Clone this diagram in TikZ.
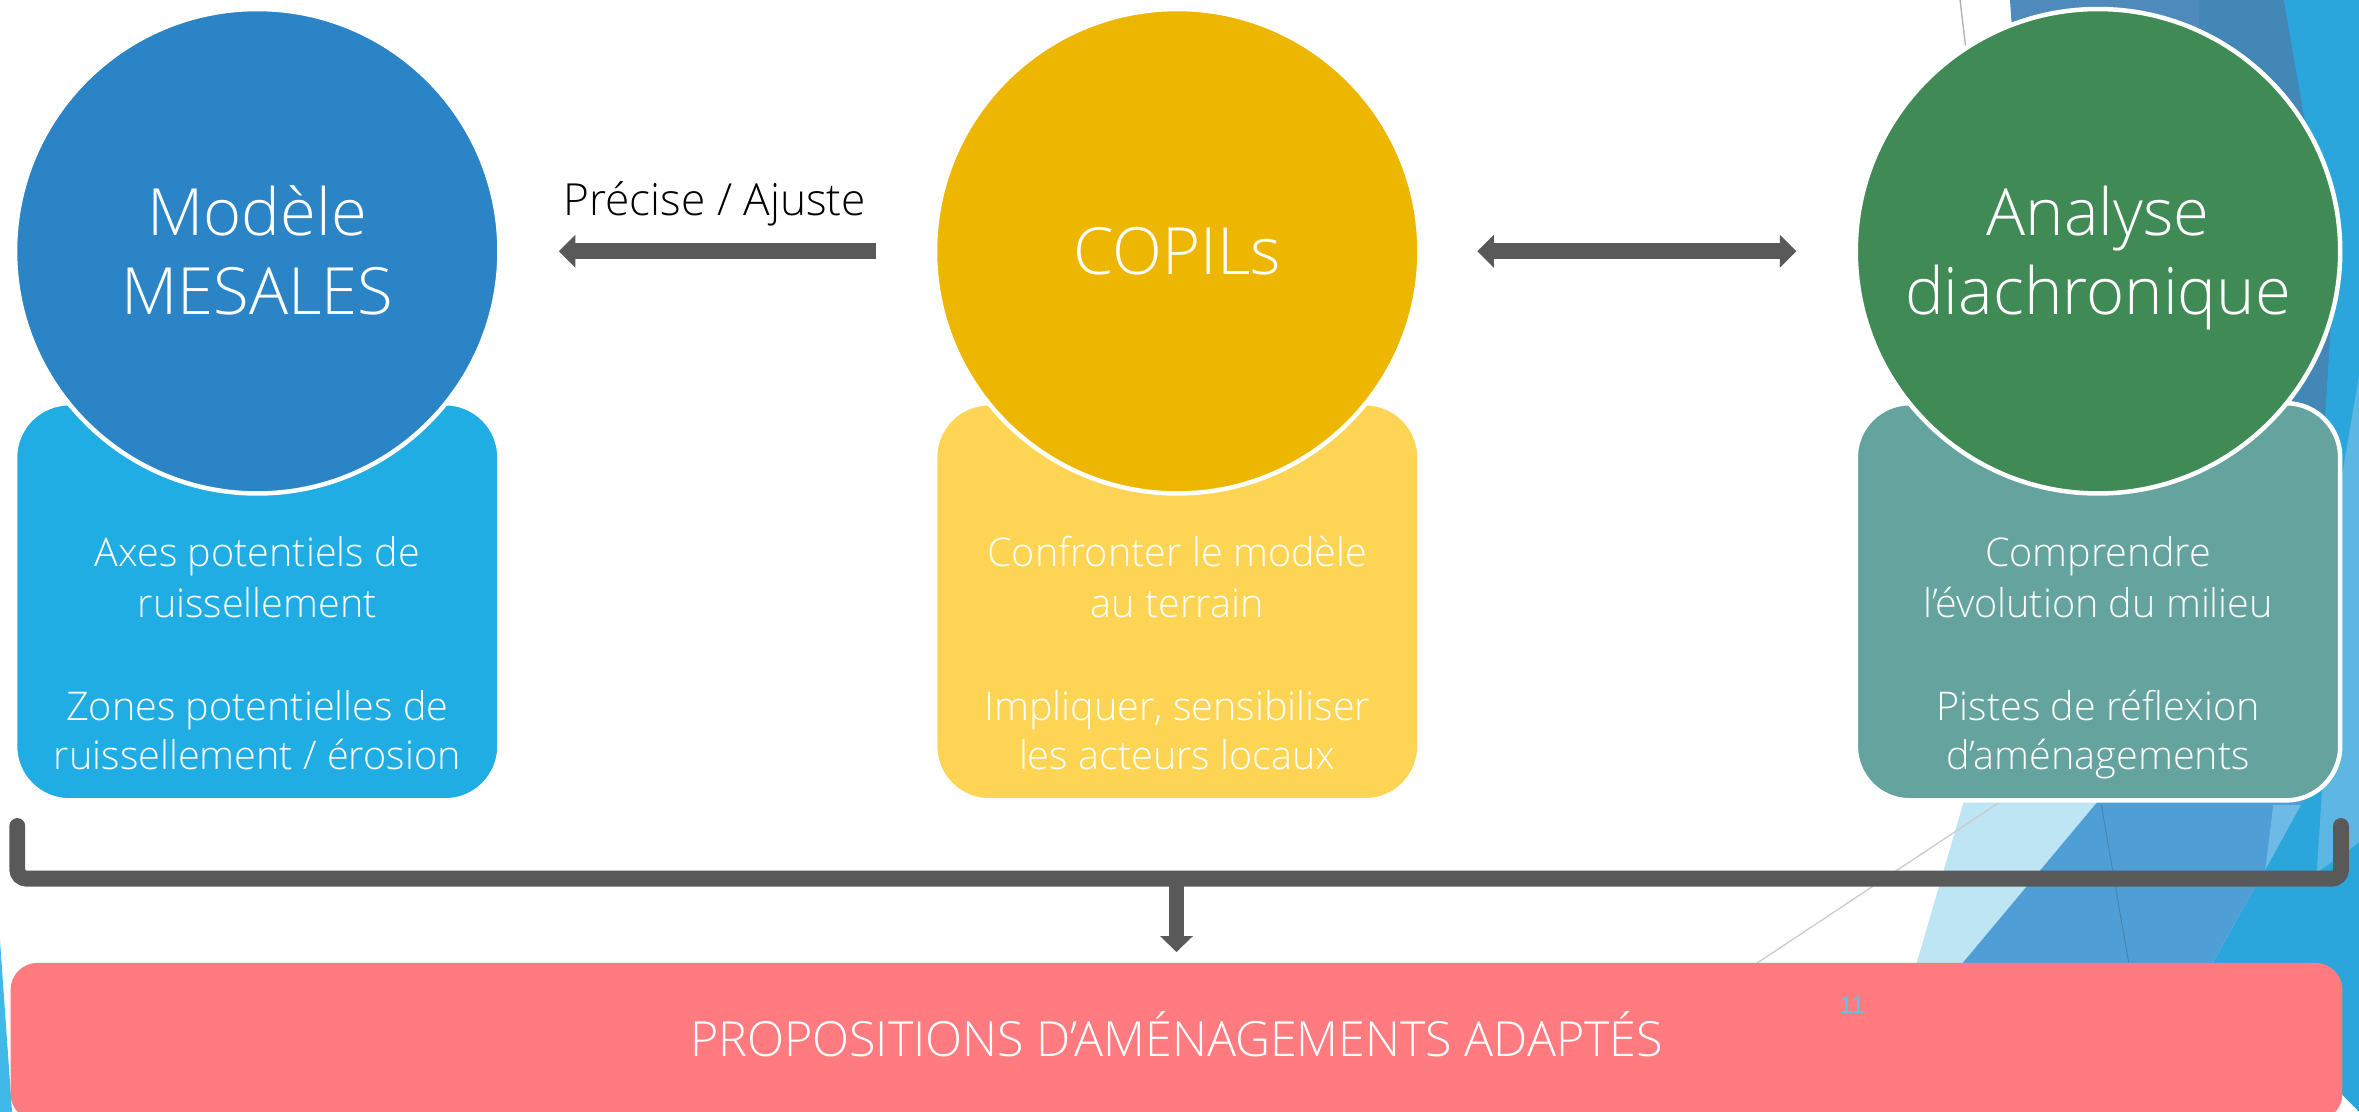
\documentclass[tikz,border=0pt]{standalone}
\usepackage{fontspec}
\IfFontExistsTF{Open Sans Light}{\setmainfont{Open Sans Light}}{\setmainfont{Open Sans}}
\newfontfamily\numfont{Liberation Sans}
\usetikzlibrary{arrows.meta,calc}
\definecolor{modC}{HTML}{2A84C6}
\definecolor{modB}{HTML}{1FADE3}
\definecolor{copC}{HTML}{EDB600}
\definecolor{copB}{HTML}{FED454}
\definecolor{anaC}{HTML}{3F8A55}
\definecolor{anaB}{HTML}{64A39E}
\definecolor{greyA}{HTML}{595959}
\definecolor{pinkP}{HTML}{FF7B80}
\definecolor{fSteel}{HTML}{4E8BBC}
\definecolor{fDark}{HTML}{4387B7}
\definecolor{fBright}{HTML}{2AA6DC}
\definecolor{fLight}{HTML}{BEE5F4}
\definecolor{fMed}{HTML}{4F9ED6}
\definecolor{fPale}{HTML}{6CBAE5}
\definecolor{fLeft}{HTML}{40B8E8}
\definecolor{numC}{HTML}{5BC5EE}
\tikzset{gtip/.tip={Triangle[width=21.5pt,length=11pt]}}
\begin{document}
\begin{tikzpicture}[x=1pt,y=-1pt,
  card/.style={rectangle, minimum width=322pt, minimum height=264pt, rounded corners=36pt, draw=white, line width=3pt, inner sep=0pt},
  disc/.style={circle, minimum size=322pt, draw=white, line width=3pt, inner sep=0pt},
  ttl/.style={text=white, font=\fontsize{43.3}{52}\selectfont, inner sep=0pt, anchor=base},
  body/.style={text=white, font=\fontsize{26.3}{33.6}\selectfont, inner sep=0pt, anchor=base},
  garrow/.style={draw=greyA, line width=10.5pt}
]
\useasboundingbox (0,0) rectangle (1568,739);
% background facets
\begin{scope}
\clip (0,0) rectangle (1568,739);
\fill[fSteel] (1336,0) -- (1568,0) -- (1568,300) -- (1400,330) -- (1350,200) -- cycle;
\fill[fDark] (1462,0) -- (1518,0) -- (1551,188) -- (1545,540) -- (1450,540) -- cycle;
\fill[fBright] (1518,0) -- (1568,0) -- (1568,739) -- (1470.7,640) -- (1529.4,535) -- (1551,188) -- cycle;
\fill[fPale, opacity=0.8] (1556,320) -- (1568,250) -- (1568,560) -- (1540,580) -- cycle;
\fill[fLight] (1274,640) -- (1309,520) -- (1405,520) -- (1304.6,640) -- cycle;
\fill[fMed] (1304.6,640) -- (1405,520) -- (1538,520) -- (1470.7,640) -- cycle;
\fill[fPale] (1505.7,578) -- (1511,535) -- (1529.4,535) -- cycle;
\draw[color=fDark!80!black, line width=0.6pt, opacity=0.5] (1396.7,535) -- (1414.9,640);
\fill[fLeft] (0,625) -- (8,739) -- (0,739) -- cycle;
\draw[color=black!20, line width=0.9pt] (1150,652) -- (1340,526);
\draw[color=black!30, line width=0.9pt] (1302.8,0) -- (1310,60);
\end{scope}
% cards
\node[card, fill=modB] (modbox) at (171,400) {};
\node[card, fill=copB] (copbox) at (782.5,400) {};
\node[card, fill=anaB] (anabox) at (1394.5,400) {};
% circles
\node[disc, fill=modC] (modele) at (171,167) {};
\node[disc, fill=copC] (copils) at (782.5,167) {};
\node[disc, fill=anaC] (analyse) at (1394.5,167) {};
% circle titles
\node[ttl] (modA) at (171,156.75) {Modèle};
\node[ttl] (modB) at (171,208.75) {MESALES};
\node[ttl] (copA) at (782.5,182.75) {COPILs};
\node[ttl] (anaA) at (1394.5,156.75) {Analyse};
\node[ttl] (anaB) at (1394.5,208.75) {diachronique};
% card texts
\node[body] (m1) at (171,376.6) {Axes potentiels de};
\node[body] (m2) at (171,410.3) {ruissellement};
\node[body] (m3) at (171,478.6) {Zones potentielles de};
\node[body] (m4) at (171,511.8) {ruissellement / érosion};
\node[body] (c1) at (782.5,376.6) {Confronter le modèle};
\node[body] (c2) at (782.5,410.3) {au terrain};
\node[body] (c3) at (782.5,478.6) {Impliquer, sensibiliser};
\node[body] (c4) at (782.5,511.8) {les acteurs locaux};
\node[body] (a1) at (1394.5,376.6) {Comprendre};
\node[body] (a2) at (1394.5,410.3) {l’évolution du milieu};
\node[body] (a3) at (1394.5,478.6) {Pistes de réflexion};
\node[body] (a4) at (1394.5,511.8) {d’aménagements};
% arrows between circles
\draw[garrow, -{gtip}, shorten <=38pt, shorten >=38pt] (copils) -- (modele);
\node[text=black, font=\fontsize{29.4}{34}\selectfont, inner sep=0pt, anchor=base] (prec) at (475,143) {Précise / Ajuste};
\draw[garrow, {gtip}-{gtip}, shorten <=37pt, shorten >=38pt] (copils) -- (analyse);
% bottom box
\node[rectangle, fill=pinkP, rounded corners=18pt, minimum width=1550pt, minimum height=105pt, inner sep=0pt] (props) at (782,692.5) {};
\node[text=white, font=\fontsize{32.2}{38}\selectfont, inner sep=0pt, anchor=base] (propsT) at (782,702) {PROPOSITIONS D’AMÉNAGEMENTS ADAPTÉS};
\node[text=numC, font=\numfont\fontsize{16}{19}\selectfont, inner sep=0pt, anchor=base] (pnum) at (1231,673.5) {11};
% bracket
\coordinate (bl) at (11.5,549);
\coordinate (br) at (1556,549);
\coordinate (bm) at (782,584);
\draw[draw=greyA, line width=10.5pt, line cap=round, rounded corners=6pt] (bl) |- (bm) -| (br);
\draw[garrow, -{Triangle[width=21pt,length=10.5pt]}, shorten >=7pt] (bm) -- (props.north);
\end{tikzpicture}
\end{document}
